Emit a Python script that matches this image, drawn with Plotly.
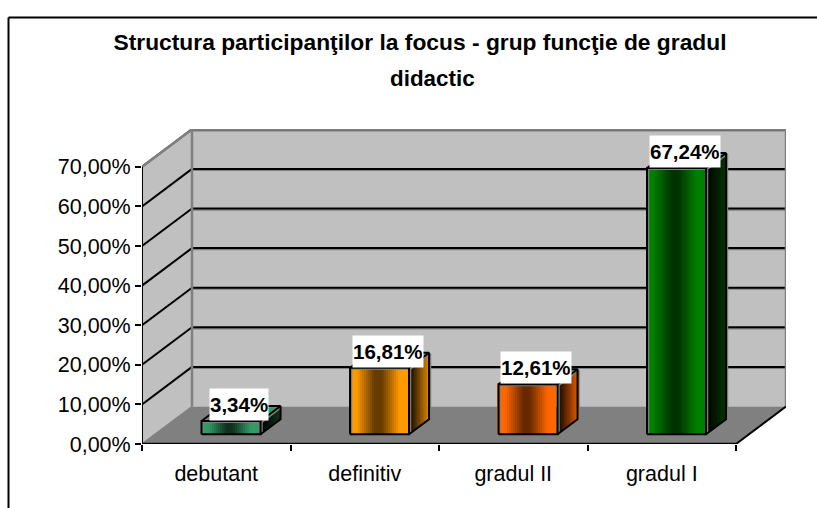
import plotly.graph_objects as go

categories = ["debutant", "definitiv", "gradul II", "gradul I"]
values = [3.34, 16.81, 12.61, 67.24]
value_labels = ["3,34%", "16,81%", "12,61%", "67,24%"]
y_ticks = [0, 10, 20, 30, 40, 50, 60, 70]
y_tick_labels = ["0,00%", "10,00%", "20,00%", "30,00%", "40,00%", "50,00%", "60,00%", "70,00%"]
base_colors = [(51, 153, 102), (255, 153, 0), (255, 102, 0), (0, 128, 0)]
dark_colors = [(15, 50, 32), (102, 60, 0), (102, 41, 0), (0, 51, 0)]

W, H = 817, 508
L, R, T, B = 142, 786, 129, 444
PX_X = 148.5          # pixels per category
PX_Y = 3.96           # pixels per percent
DX, DY = 50 / PX_X, 37.5 / PX_Y      # chart depth in axis units
BAR_W = 59 / PX_X
BAR_DEPTH = 0.4
BAR_OFF = 0.26
bar_left = [0.401 + i for i in range(4)]


def mix(a, b, t):
    return "rgb(%d,%d,%d)" % tuple(round(a[k] + (b[k] - a[k]) * t) for k in range(3))


def profile(t):
    d = abs(t - 0.5) * 2
    return 1 - min(max((d - 0.12) / 0.6, 0), 1)


fig = go.Figure()

# Front faces, drawn as stripes of a real bar trace (each overlaps the next so no seams show)
N = 30
xs, ys, bases, cols, widths = [], [], [], [], []
sw = BAR_W / N
base = DY * BAR_OFF
for i, v in enumerate(values):
    for k in range(N):
        t = (k + 0.5) / N
        span = sw * (2 if k < N - 1 else 1)
        xs.append(bar_left[i] + sw * k + span / 2 - 1.5 / PX_X)
        ys.append(v)
        bases.append(base)
        cols.append(mix(base_colors[i], dark_colors[i], profile(t)))
        widths.append(span)
fig.add_trace(go.Bar(x=xs, y=ys, base=bases, width=widths, marker=dict(color=cols, line=dict(width=0)),
                     showlegend=False, hoverinfo="skip"))

# Side and top faces
S = 14
for i, v in enumerate(values):
    x1 = bar_left[i] + BAR_W
    y0, y1 = base, base + v
    ddx, ddy = DX * BAR_DEPTH, DY * BAR_DEPTH
    fig.add_trace(go.Scatter(x=[bar_left[i], x1, x1 + ddx, bar_left[i] + ddx, bar_left[i]],
                             y=[y1, y1, y1 + ddy, y1 + ddy, y1], mode="lines", fill="toself",
                             fillcolor=mix(base_colors[i], base_colors[i], 0), line=dict(width=0),
                             showlegend=False, hoverinfo="skip"))
    for k in range(S):
        a, b = k / S, (k + 1) / S
        c = mix((0, 0, 0), dark_colors[i] if i in (0, 3) else base_colors[i], min(1, (a + 0.05) * (1.0 if i in (0, 3) else 0.85)))
        fig.add_trace(go.Scatter(x=[x1 + ddx * a, x1 + ddx * b, x1 + ddx * b, x1 + ddx * a, x1 + ddx * a],
                                 y=[y0 + ddy * a, y0 + ddy * b, y1 + ddy * b, y1 + ddy * a, y0 + ddy * a],
                                 mode="lines", fill="toself", fillcolor=c, line=dict(width=1, color=c),
                                 showlegend=False, hoverinfo="skip"))
    ox = [bar_left[i], x1, x1, bar_left[i], bar_left[i], None,
          x1, x1 + ddx, x1 + ddx, x1, None,
          bar_left[i], bar_left[i] + ddx, x1 + ddx]
    oy = [y0, y0, y1, y1, y0, None,
          y0, y0 + ddy, y1 + ddy, y1, None,
          y1, y1 + ddy, y1 + ddy]
    fig.add_trace(go.Scatter(x=[p + 1.2 / PX_X if p is not None else None for p in ox],
                             y=[p - 1.0 / PX_Y if p is not None else None for p in oy],
                             mode="lines", line=dict(color="#808080", width=2), showlegend=False, hoverinfo="skip"))
    fig.add_trace(go.Scatter(x=ox, y=oy, mode="lines", line=dict(color="black", width=2),
                             showlegend=False, hoverinfo="skip"))

X_END = len(categories)
Y_END = y_ticks[-1]
shapes = [
    # walls and floor
    dict(type="path", path=f"M 0 0 L {DX} {DY} L {DX} {Y_END + DY} L 0 {Y_END} Z", fillcolor="#C0C0C0", line=dict(width=0)),
    dict(type="path", path=f"M {DX} {DY} L {X_END + DX} {DY} L {X_END + DX} {Y_END + DY} L {DX} {Y_END + DY} Z",
         fillcolor="#C0C0C0", line=dict(width=0)),
    dict(type="path", path=f"M 0 0 L {X_END} 0 L {X_END + DX} {DY} L {DX} {DY} Z", fillcolor="#808080", line=dict(width=0)),
]
for v in y_ticks[1:]:
    shapes.append(dict(type="line", x0=DX, x1=X_END + DX, y0=v + DY - 0.35, y1=v + DY - 0.35, line=dict(color="#808080", width=1.5)))
    shapes.append(dict(type="line", x0=DX, x1=X_END + DX, y0=v + DY, y1=v + DY, line=dict(color="black", width=2)))
    shapes.append(dict(type="line", x0=0, x1=DX, y0=v, y1=v + DY, line=dict(color="black", width=2)))
gray = dict(color="#808080", width=2.5)
shapes += [
    dict(type="line", x0=0, y0=Y_END, x1=DX, y1=Y_END + DY, line=gray),
    dict(type="line", x0=DX, y0=Y_END + DY, x1=X_END + DX, y1=Y_END + DY, line=gray),
    dict(type="line", x0=DX, y0=DY, x1=DX, y1=Y_END + DY, line=gray),
    dict(type="line", x0=X_END + DX, y0=DY, x1=X_END + DX, y1=Y_END + DY, line=gray),
    dict(type="line", x0=0, y0=0, x1=DX, y1=DY, line=dict(color="#808080", width=1.5)),
    dict(type="line", x0=0, y0=0, x1=0, y1=Y_END, line=dict(color="black", width=2)),
    dict(type="line", x0=0, y0=0, x1=X_END, y1=0, line=dict(color="black", width=2.5)),
    dict(type="line", x0=X_END, y0=0, x1=X_END + DX, y1=DY, line=dict(color="black", width=2)),
]
for s in shapes:
    s.update(xref="x", yref="y", layer="below")
# chart frame, open at the right and bottom edges of the picture
shapes.append(dict(type="line", xref="paper", yref="paper", x0=(8.5 - L) / (R - L), x1=(W - L) / (R - L),
                   y0=(B - 17.5) / (B - T), y1=(B - 17.5) / (B - T), line=dict(color="black", width=2), layer="above"))
shapes.append(dict(type="line", xref="paper", yref="paper", x0=(8.5 - L) / (R - L), x1=(8.5 - L) / (R - L),
                   y0=(B - 17.5) / (B - T), y1=(B - H) / (B - T), line=dict(color="black", width=2), layer="above"))

annotations = []
for i, (v, t) in enumerate(zip(values, value_labels)):
    annotations.append(dict(x=bar_left[i] + BAR_W / 2, y=base + v, xref="x", yref="y", text=t, showarrow=False,
                            xanchor="center", yanchor="bottom", xshift=8, yshift=0, bgcolor="white", borderpad=0,
                            height=31, valign="middle",
                            font=dict(family="Liberation Sans", size=20.5, color="black", weight="bold")))
annotations.append(dict(x=(432 - L) / (R - L), y=(B - 79) / (B - T), xref="paper", yref="paper", text="didactic",
                        showarrow=False, xanchor="center", yanchor="middle",
                        font=dict(family="Liberation Sans", size=22.4, color="black", weight="bold")))

fig.update_layout(
    width=W, height=H, autosize=False,
    margin=dict(l=L, r=W - R, t=T, b=H - B, pad=0),
    paper_bgcolor="white", plot_bgcolor="white",
    barmode="overlay", bargap=0,
    showlegend=False,
    title=dict(text="Structura participanţilor la focus - grup funcţie de gradul", x=420 / W, xanchor="center",
               y=1 - 42 / H, yanchor="middle",
               font=dict(family="Liberation Sans", size=22.8, color="black", weight="bold")),
    xaxis=dict(range=[0, (R - L) / PX_X], tickmode="array", tickvals=[i + 0.5 for i in range(4)], ticktext=categories,
               ticks="", ticklen=0, showgrid=False, zeroline=False, showline=False,
               minor=dict(tickmode="array", tickvals=list(range(5)), ticks="outside", ticklen=6, tickwidth=2,
                          tickcolor="black", showgrid=False),
               tickfont=dict(family="Liberation Sans", size=21.5, color="black"), ticklabelstandoff=14),
    yaxis=dict(range=[0, (B - T) / PX_Y], tickmode="array", tickvals=y_ticks, ticktext=y_tick_labels,
               ticks="outside", ticklen=6, tickwidth=2, tickcolor="black", showgrid=False, zeroline=False, showline=False,
               tickfont=dict(family="Liberation Sans", size=21.5, color="black")),
    shapes=shapes, annotations=annotations,
)
fig.write_html("out.html", config=dict(displayModeBar=False), post_script="document.body.style.margin='0';")
